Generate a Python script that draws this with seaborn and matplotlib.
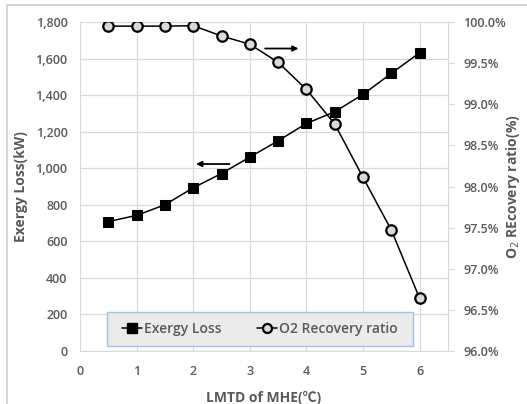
import matplotlib
matplotlib.use("Agg")
import matplotlib.pyplot as plt
import seaborn as sns
import pandas as pd
from matplotlib.patches import Rectangle
from matplotlib.lines import Line2D
from matplotlib.ticker import FuncFormatter

lmtd = [0.5, 1.0, 1.5, 2.0, 2.5, 3.0, 3.5, 4.0, 4.5, 5.0, 5.5, 6.0]
exergy_loss = [708, 742, 800, 893, 971, 1061, 1150, 1245, 1309, 1404, 1519, 1632]
o2_recovery = [99.95, 99.95, 99.95, 99.955, 99.83, 99.73, 99.51, 99.18, 98.76, 98.11, 97.47, 96.64]
left_ticks = [0, 200, 400, 600, 800, 1000, 1200, 1400, 1600, 1800]
right_ticks = [96.0, 96.5, 97.0, 97.5, 98.0, 98.5, 99.0, 99.5, 100.0]
x_ticks = [0, 1, 2, 3, 4, 5, 6]

sns.set_style("white")
plt.rcParams['font.family'] = ['Open Sans', 'Noto Sans CJK SC', 'DejaVu Sans']

df = pd.DataFrame({"lmtd": lmtd, "exergy": exergy_loss, "o2": o2_recovery})

fig = plt.figure(figsize=(5.27, 4.04), dpi=100)
ax = fig.add_axes([0.1518, 0.1312, 0.6982, 0.8143])
ax2 = ax.twinx()

txt = '#595959'
grid = '#d9d9d9'

sns.lineplot(data=df, x="lmtd", y="exergy", ax=ax, color='black', lw=1.1,
             marker='s', markersize=7.5, markerfacecolor='black',
             markeredgecolor='black', zorder=3)
sns.lineplot(data=df, x="lmtd", y="o2", ax=ax2, color='black', lw=1.1,
             marker='o', markersize=7.5, markerfacecolor='#d9d9d9',
             markeredgecolor='black', markeredgewidth=1.6, zorder=3)

ax.set_xlim(0, 6.5)
ax.set_ylim(0, 1800)
ax2.set_ylim(96, 100)
ax.set_xticks(x_ticks)
ax.set_yticks(left_ticks)
ax2.set_yticks(right_ticks)
ax.yaxis.set_major_formatter(FuncFormatter(lambda v, p: f"{int(v):,}"))
ax2.yaxis.set_major_formatter(FuncFormatter(lambda v, p: f"{v:.1f}%"))

ax.grid(True, color=grid, lw=0.9)
ax.set_axisbelow(True)
for s in ['top', 'left', 'right']:
    ax.spines[s].set_visible(False)
    ax2.spines[s].set_visible(False)
ax.spines['bottom'].set_color(grid)
ax2.spines['bottom'].set_visible(False)
ax2.spines['right'].set_visible(True)
ax2.spines['right'].set_color(grid)

ax.tick_params(axis='x', colors=txt, labelsize=9, length=4, color=grid, pad=6)
ax.tick_params(axis='y', colors=txt, labelsize=9, length=0, pad=9)
ax2.tick_params(axis='y', colors=txt, labelsize=9, length=4, color=grid, pad=7)
for lab in ax.get_xticklabels() + ax.get_yticklabels() + ax2.get_yticklabels():
    lab.set_fontweight('semibold')
    lab.set_color(txt)

ax.set_xlabel("LMTD of MHE(℃)", color=txt, fontsize=10, fontweight='bold')
ax.set_ylabel("Exergy Loss(kW)", color=txt, fontsize=10, fontweight='bold')
ax2.set_ylabel("O$_2$ REcovery ratio(%)", color=txt, fontsize=10, fontweight='bold',
               rotation=90)
ax.xaxis.set_label_coords(0.5, -0.122)
ax.yaxis.set_label_coords(-0.142, 0.5)
ax2.yaxis.set_label_coords(1.152, 0.5)

# arrows
ax.annotate("", xy=(2.05, 1023), xytext=(2.64, 1023),
            arrowprops=dict(arrowstyle='-|>', color='black', lw=1.3,
                            mutation_scale=8, shrinkA=0, shrinkB=0))
ax.annotate("", xy=(3.86, 1655), xytext=(3.27, 1655),
            arrowprops=dict(arrowstyle='-|>', color='black', lw=1.3,
                            mutation_scale=8, shrinkA=0, shrinkB=0))

# legend box
ax2.add_patch(Rectangle((0.073, 0.015), 0.832, 0.104, transform=ax2.transAxes,
                        facecolor='#ebebeb', edgecolor='#9dc3e6', lw=1.0, zorder=4))
handles = [Line2D([], [], color='black', marker='s', markersize=7, lw=1.1,
                  markerfacecolor='black'),
           Line2D([], [], color='black', marker='o', markersize=6.5, lw=1.1,
                  markerfacecolor='#d9d9d9', markeredgewidth=1.6)]
leg = ax2.legend(handles, ["Exergy Loss", "O2 Recovery ratio"], ncol=2, frameon=False,
                 loc='center', bbox_to_anchor=(0.489, 0.067), handlelength=1.4,
                 handletextpad=0.15, columnspacing=2.6, prop=dict(size=10, weight='semibold'))
leg.set_zorder(5)
for t in leg.get_texts():
    t.set_color(txt)

# outer border
fig.patches.append(Rectangle((7 / 527, -0.05), 1.2, 1 - 5 / 404 + 0.05,
                             transform=fig.transFigure, facecolor='none',
                             edgecolor='#d0d0d0', lw=1.2, zorder=-1))

fig.savefig("out.png", dpi=100)
